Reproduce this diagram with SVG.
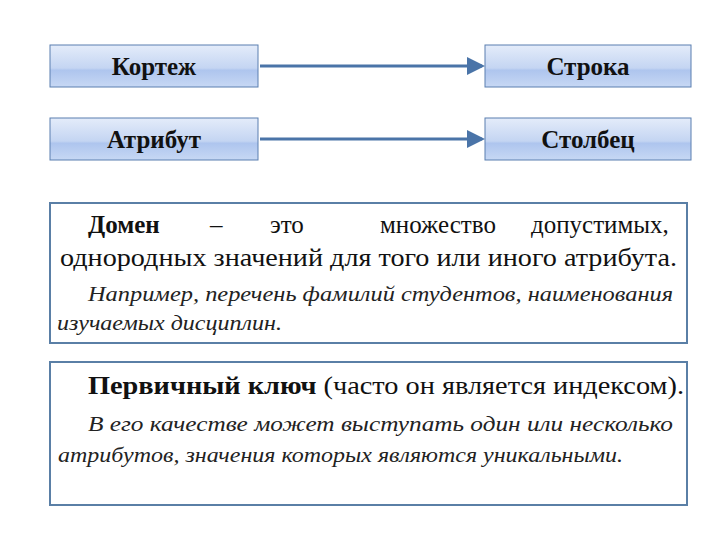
<svg xmlns="http://www.w3.org/2000/svg" width="720" height="540" viewBox="0 0 720 540">
<defs>
<linearGradient id="g" x1="0" y1="0" x2="0" y2="1">
<stop offset="0" stop-color="#e4ecfa"/><stop offset="0.55" stop-color="#c4d5f2"/><stop offset="0.6" stop-color="#aec5ee"/><stop offset="1" stop-color="#c7d8f4"/>
</linearGradient>
<marker id="ah" markerWidth="6" markerHeight="6" refX="5" refY="3" orient="auto" markerUnits="strokeWidth"><path d="M0,0 L6,3 L0,6 z" fill="#4a74a8"/></marker>
</defs>
<style>
.n{fill:url(#g);stroke:#5a7fb0;stroke-width:1}
.t{font-family:'Liberation Serif','Times New Roman','DejaVu Serif',serif;font-weight:bold;font-size:25px;text-anchor:middle;fill:#111}
.b{fill:#fff;stroke:#5a7fa6;stroke-width:2}
.r{font-family:'Liberation Serif','Times New Roman','DejaVu Serif',serif;font-size:25px;fill:#111}
.i{font-family:'Liberation Serif','Times New Roman','DejaVu Serif',serif;font-style:italic;font-size:20px;fill:#222}
.c{stroke:#4a74a8;stroke-width:3;fill:none}
</style>
<rect width="720" height="540" fill="#fff"/>
<g id="n1"><rect class="n" x="50" y="45" width="208" height="42"/><text class="t" x="154" y="75">Кортеж</text></g>
<g id="n2"><rect class="n" x="485" y="45" width="206" height="42"/><text class="t" x="588" y="75">Строка</text></g>
<g id="n3"><rect class="n" x="50" y="118" width="208" height="42"/><text class="t" x="154" y="148">Атрибут</text></g>
<g id="n4"><rect class="n" x="485" y="118" width="206" height="42"/><text class="t" x="588" y="148">Столбец</text></g>
<g id="connectors">
<line class="c" x1="260" y1="66" x2="482" y2="66" marker-end="url(#ah)"/>
<line class="c" x1="260" y1="139" x2="482" y2="139" marker-end="url(#ah)"/>
</g>
<g id="domain">
<rect class="b" x="50" y="203" width="637" height="140"/>
<text class="r" y="233"><tspan x="88" font-weight="bold">Домен</tspan><tspan x="210">–</tspan><tspan x="270">это</tspan><tspan x="380">множество</tspan><tspan x="531">допустимых,</tspan></text>
<text class="r" x="60" y="266" textLength="617" lengthAdjust="spacingAndGlyphs">однородных значений для того или иного атрибута.</text>
<text class="i" x="88" y="301" textLength="585" lengthAdjust="spacingAndGlyphs">Например, перечень фамилий студентов, наименования</text>
<text class="i" x="57" y="330" textLength="225" lengthAdjust="spacingAndGlyphs">изучаемых дисциплин.</text>
</g>
<g id="key">
<rect class="b" x="50" y="362" width="637" height="143"/>
<text class="r" x="88" y="394" textLength="596" lengthAdjust="spacingAndGlyphs"><tspan font-weight="bold">Первичный ключ</tspan>  (часто он является индексом).</text>
<text class="i" x="88" y="431" textLength="585" lengthAdjust="spacingAndGlyphs">В его качестве может выступать один или несколько</text>
<text class="i" x="58" y="462" textLength="565" lengthAdjust="spacingAndGlyphs">атрибутов, значения которых являются уникальными.</text>
</g>
</svg>
